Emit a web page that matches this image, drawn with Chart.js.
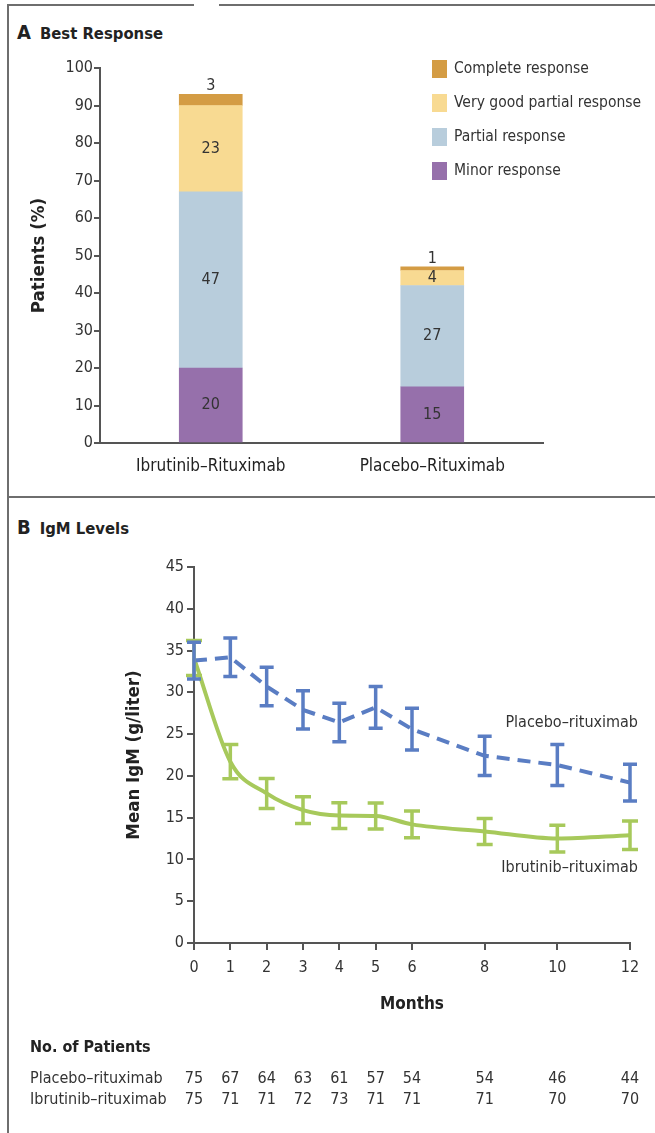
<!DOCTYPE html>
<html>
<head>
<meta charset="utf-8">
<script src="https://cdn.jsdelivr.net/npm/chart.js@4.4.1/dist/chart.umd.min.js"></script>
<style>
  html, body { margin: 0; padding: 0; background: #fff; }
  body { width: 655px; height: 1133px; position: relative; overflow: hidden;
         font-family: 'DejaVu Sans Condensed', 'DejaVu Sans', sans-serif; color: #222; }
  .rule { position: absolute; background: #6e6e6e; }
  .ptitle { position: absolute; left: 17px; font-weight: bold; font-size: 16.5px; line-height: 22px; }
  .ptitle b { font-size: 20px; margin-right: 9px; }
  canvas { position: absolute; left: 0; }
</style>
</head>
<body>
<div class="rule" style="left:7px;top:4px;width:2px;height:1129px"></div>
<div class="rule" style="left:7px;top:4px;width:187px;height:2px"></div>
<div class="rule" style="left:219px;top:4px;width:436px;height:2px"></div>
<div class="rule" style="left:7px;top:496px;width:648px;height:2px"></div>

<div class="ptitle" style="top:21px"><b>A</b>Best Response</div>
<div class="ptitle" style="top:516px"><b>B</b>IgM Levels</div>

<canvas id="best" width="655" height="497" style="top:0"></canvas>
<canvas id="igm" width="655" height="636" style="top:497px"></canvas>

<script>
const FONT = "'DejaVu Sans Condensed', 'DejaVu Sans', sans-serif";
Chart.defaults.font.family = FONT;
Chart.defaults.color = '#333';

// best response, % of patients per arm
const armLabels = ['Ibrutinib–Rituximab', 'Placebo–Rituximab'];
const responseNames = ['Minor response', 'Partial response', 'Very good partial response', 'Complete response'];
const minorPct = [20, 15];
const partialPct = [47, 27];
const vgprPct = [23, 4];
const completePct = [3, 1];
const responseColors = ['#9670ab', '#b8cddc', '#f8da92', '#d49c44'];

// IgM over time
const months = [0, 1, 2, 3, 4, 5, 6, 8, 10, 12];
const placeboMean = [33.8, 34.2, 30.7, 27.9, 26.4, 28.2, 25.6, 22.4, 21.3, 19.2];
const placeboErr = [2.2, 2.3, 2.3, 2.3, 2.3, 2.5, 2.5, 2.35, 2.45, 2.2];
const ibrutinibMean = [34.1, 21.7, 17.9, 15.9, 15.25, 15.2, 14.2, 13.35, 12.5, 12.9];
const ibrutinibErr = [2.1, 2.05, 1.8, 1.6, 1.55, 1.55, 1.6, 1.55, 1.6, 1.7];
const placeboN = [75, 67, 64, 63, 61, 57, 54, 54, 46, 44];
const ibrutinibN = [75, 71, 71, 72, 73, 71, 71, 71, 70, 70];

const AXIS = '#555';
const BLUE = '#5a7dc3';
const GREEN = '#a7c95b';

// numbers on the stacked segments, small ones go above the bar
const segmentLabels = {
  id: 'segmentLabels',
  afterDatasetsDraw(chart) {
    const ctx = chart.ctx;
    ctx.save();
    ctx.font = '16px ' + FONT;
    ctx.fillStyle = '#333';
    ctx.textAlign = 'center';
    ctx.textBaseline = 'middle';
    chart.data.datasets.forEach((ds, di) => {
      chart.getDatasetMeta(di).data.forEach((bar, i) => {
        const h = bar.base - bar.y;
        const y = h < 13 ? bar.y - 8 : (bar.y + bar.base) / 2;
        ctx.fillText(ds.data[i], bar.x, y);
      });
    });
    ctx.restore();
  }
};

const responseLegend = {
  id: 'responseLegend',
  afterDraw(chart) {
    const ctx = chart.ctx;
    ctx.save();
    ctx.font = '15.5px ' + FONT;
    ctx.textBaseline = 'middle';
    const items = chart.data.datasets.slice().reverse();
    items.forEach((ds, k) => {
      const y = 69 + k * 34;
      ctx.fillStyle = ds.backgroundColor;
      ctx.fillRect(432, y - 9, 15, 18);
      ctx.fillStyle = '#333';
      ctx.fillText(ds.label, 454, y);
    });
    ctx.restore();
  }
};

new Chart(document.getElementById('best'), {
  type: 'bar',
  data: {
    labels: armLabels,
    datasets: [minorPct, partialPct, vgprPct, completePct].map((d, k) => ({
      label: responseNames[k],
      data: d,
      backgroundColor: responseColors[k],
      barThickness: 63
    }))
  },
  options: {
    responsive: false,
    animation: false,
    devicePixelRatio: 1,
    layout: { padding: { left: 24, top: 68, right: 112, bottom: 24 } },
    plugins: { legend: { display: false }, tooltip: { enabled: false } },
    scales: {
      x: {
        stacked: true,
        grid: { display: false, drawTicks: false },
        border: { color: AXIS, width: 2 },
        ticks: { font: { size: 17 }, color: '#222', padding: 13 },
        afterFit(axis) { axis.height = 30; }
      },
      y: {
        stacked: true,
        min: 0, max: 100,
        ticks: { stepSize: 10, font: { size: 16 }, padding: 1 },
        grid: { drawOnChartArea: false, tickLength: 6, color: AXIS, lineWidth: 2 },
        border: { color: AXIS, width: 2 },
        title: { display: true, text: 'Patients (%)', font: { size: 18.5, weight: 'bold' }, color: '#222' },
        afterFit(axis) { axis.width = 76; }
      }
    }
  },
  plugins: [segmentLabels, responseLegend]
});

// vertical error bars with caps
const errorBars = {
  id: 'errorBars',
  afterDatasetsDraw(chart) {
    const ctx = chart.ctx;
    const ys = chart.scales.y;
    ctx.save();
    ctx.lineWidth = 3.5;
    for (let di = chart.data.datasets.length - 1; di >= 0; di--) {
      const ds = chart.data.datasets[di];
      ctx.strokeStyle = ds.borderColor;
      chart.getDatasetMeta(di).data.forEach((pt, i) => {
        const v = ds.data[i].y, e = ds.errors[i];
        const top = ys.getPixelForValue(v + e), bot = ys.getPixelForValue(v - e);
        const w = ds.capHalf;
        ctx.beginPath();
        ctx.moveTo(pt.x, top); ctx.lineTo(pt.x, bot);
        ctx.moveTo(pt.x - w, top); ctx.lineTo(pt.x + w, top);
        ctx.moveTo(pt.x - w, bot); ctx.lineTo(pt.x + w, bot);
        ctx.stroke();
      });
    }
    ctx.restore();
  }
};

// series names beside the lines and the patient counts under the axis
const igmText = {
  id: 'igmText',
  afterDraw(chart) {
    const ctx = chart.ctx;
    const xs = chart.scales.x, ys = chart.scales.y;
    const right = chart.chartArea.right + 8;
    ctx.save();
    ctx.fillStyle = '#333';
    ctx.font = '16px ' + FONT;
    ctx.textBaseline = 'middle';
    ctx.textAlign = 'right';
    ctx.fillText('Placebo–rituximab', right, ys.getPixelForValue(26.3));
    ctx.fillText('Ibrutinib–rituximab', right, ys.getPixelForValue(9.0));

    ctx.textAlign = 'left';
    ctx.font = 'bold 16px ' + FONT;
    ctx.fillStyle = '#222';
    ctx.fillText('No. of Patients', 30, 551);
    ctx.font = '16px ' + FONT;
    ctx.fillStyle = '#333';
    ctx.fillText('Placebo–rituximab', 30, 582);
    ctx.fillText('Ibrutinib–rituximab', 30, 603);
    ctx.textAlign = 'center';
    months.forEach((m, i) => {
      const x = xs.getPixelForValue(m);
      ctx.fillText(placeboN[i], x, 582);
      ctx.fillText(ibrutinibN[i], x, 603);
    });
    ctx.restore();
  }
};

new Chart(document.getElementById('igm'), {
  type: 'line',
  data: {
    datasets: [
      {
        label: 'Placebo–rituximab',
        data: months.map((m, i) => ({ x: m, y: placeboMean[i] })),
        errors: placeboErr,
        capHalf: 7,
        borderColor: BLUE,
        borderWidth: 4,
        borderDash: [13, 8],
        pointRadius: 0,
        tension: 0,
        clip: false
      },
      {
        label: 'Ibrutinib–rituximab',
        data: months.map((m, i) => ({ x: m, y: ibrutinibMean[i] })),
        errors: ibrutinibErr,
        capHalf: 8,
        borderColor: GREEN,
        borderWidth: 4,
        pointRadius: 0,
        cubicInterpolationMode: 'monotone',
        clip: false
      }
    ]
  },
  options: {
    responsive: false,
    animation: false,
    devicePixelRatio: 1,
    layout: { padding: { left: 119, top: 70, right: 25, bottom: 118 } },
    plugins: { legend: { display: false }, tooltip: { enabled: false } },
    scales: {
      x: {
        type: 'linear',
        min: 0, max: 12,
        afterBuildTicks(axis) { axis.ticks = months.map(v => ({ value: v })); },
        ticks: { font: { size: 16 }, padding: 8 },
        grid: { drawOnChartArea: false, tickLength: 7, color: AXIS, lineWidth: 2 },
        border: { color: AXIS, width: 2 },
        title: { display: true, text: 'Months', font: { size: 17, weight: 'bold' }, color: '#222', padding: { top: 0, bottom: 0 } },
        afterFit(axis) { axis.height = 72; }
      },
      y: {
        min: 0, max: 45,
        ticks: { stepSize: 5, font: { size: 16 }, padding: 3 },
        grid: { drawOnChartArea: false, tickLength: 7, color: AXIS, lineWidth: 2 },
        border: { color: AXIS, width: 2 },
        title: { display: true, text: 'Mean IgM (g/liter)', font: { size: 18.5, weight: 'bold' }, color: '#222' },
        afterFit(axis) { axis.width = 75; }
      }
    }
  },
  plugins: [errorBars, igmText]
});
</script>
</body>
</html>
